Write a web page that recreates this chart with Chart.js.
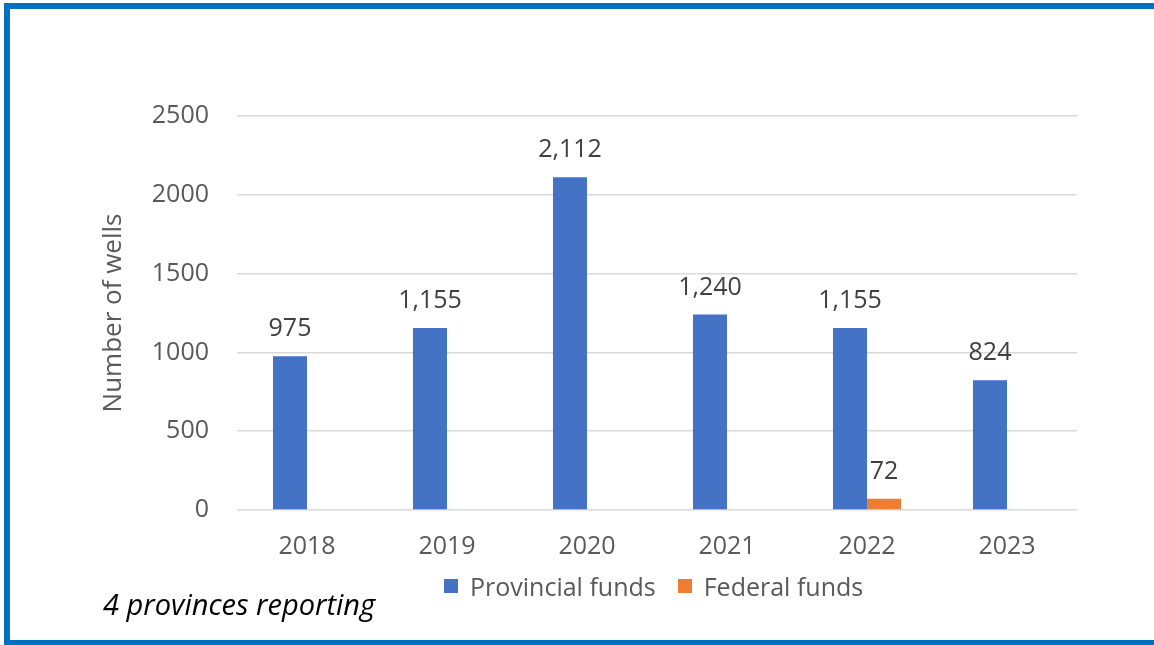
<html>
<head>
    <title>Number of wells</title>
    <style>
        body {
            margin: 0;
            background: #fff;
            overflow: hidden;
            font-family: "Open Sans", Arial, sans-serif;
        }
        .frame {
            position: absolute;
            left: 4px;
            top: 3px;
            width: 1200px;
            height: 642px;
            box-sizing: border-box;
            border-left: 6px solid #0070C0;
            border-top: 6px solid #0070C0;
            border-bottom: 5px solid #0070C0;
        }
        #chartBox {
            position: absolute;
            left: 0;
            top: 0;
            width: 1154px;
            height: 645px;
        }
        #legend {
            position: absolute;
            left: 444px;
            top: 568px;
            height: 36px;
            display: flex;
            align-items: center;
            font-size: 25px;
            color: #595959;
            white-space: nowrap;
        }
        #legend .item {
            display: flex;
            align-items: center;
            margin-right: 22px;
        }
        #legend .box {
            width: 14px;
            height: 14px;
            margin-right: 12px;
        }
        .note {
            position: absolute;
            left: 103px;
            top: 584px;
            font-size: 29px;
            font-style: italic;
            color: #000;
            white-space: nowrap;
        }
    </style>
    <script src="https://cdn.jsdelivr.net/npm/chart.js"></script>
</head>
<body>
    <div class="frame"></div>
    <div id="chartBox"><canvas id="wellsChart" width="1154" height="645"></canvas></div>
    <div id="legend"></div>
    <div class="note">4 provinces reporting</div>
    <script>
        var years = ['2018', '2019', '2020', '2021', '2022', '2023'];
        var provincialFunds = [975, 1155, 2112, 1240, 1155, 824];
        var federalFunds = [null, null, null, null, 72, null];
        var yTicks = [0, 500, 1000, 1500, 2000, 2500];

        // draws the number above each bar
        var valueLabels = {
            id: 'valueLabels',
            afterDatasetsDraw: function (chart) {
                var ctx = chart.ctx;
                ctx.save();
                ctx.font = '25px "Open Sans"';
                ctx.fillStyle = '#404040';
                ctx.textAlign = 'center';
                ctx.textBaseline = 'middle';
                chart.data.datasets.forEach(function (ds, i) {
                    chart.getDatasetMeta(i).data.forEach(function (bar, j) {
                        var v = ds.data[j];
                        if (v === null || v === undefined) return;
                        ctx.fillText(v.toLocaleString('en-US'), bar.x, bar.y - 27);
                    });
                });
                ctx.restore();
            }
        };

        var ctx = document.getElementById('wellsChart').getContext('2d');
        var wellsChart = new Chart(ctx, {
            type: 'bar',
            data: {
                labels: years,
                datasets: [
                    {
                        label: 'Provincial funds',
                        data: provincialFunds,
                        backgroundColor: '#4472C4',
                        categoryPercentage: 0.486,
                        barPercentage: 1
                    },
                    {
                        label: 'Federal funds',
                        data: federalFunds,
                        backgroundColor: '#ED7D31',
                        categoryPercentage: 0.486,
                        barPercentage: 1
                    }
                ]
            },
            options: {
                responsive: false,
                animation: false,
                layout: {
                    padding: { left: 98, right: 77, top: 116, bottom: 0 }
                },
                plugins: {
                    legend: { display: false },
                    tooltip: { enabled: false }
                },
                scales: {
                    x: {
                        grid: { display: false, drawTicks: false },
                        border: { display: false },
                        ticks: {
                            color: '#595959',
                            font: { family: 'Open Sans', size: 25 },
                            padding: 22
                        },
                        afterFit: function (axis) { axis.height = 135; }
                    },
                    y: {
                        min: 0,
                        max: 2500,
                        afterBuildTicks: function (axis) {
                            axis.ticks = yTicks.map(function (v) { return { value: v }; });
                        },
                        grid: { color: '#d9d9d9', lineWidth: 1.5, drawTicks: false },
                        border: { display: false },
                        ticks: {
                            color: '#595959',
                            font: { family: 'Open Sans', size: 25 },
                            padding: 28,
                            callback: function (v) { return String(v); }
                        },
                        title: {
                            display: true,
                            text: 'Number of wells',
                            color: '#595959',
                            font: { family: 'Open Sans', size: 26 },
                            padding: 0
                        },
                        afterFit: function (axis) { axis.width = 237 - 98; }
                    }
                }
            },
            plugins: [valueLabels]
        });

        // legend built from the chart's datasets
        var legendEl = document.getElementById('legend');
        wellsChart.data.datasets.forEach(function (ds) {
            var item = document.createElement('div');
            item.className = 'item';
            var box = document.createElement('span');
            box.className = 'box';
            box.style.background = ds.backgroundColor;
            var txt = document.createElement('span');
            txt.textContent = ds.label;
            item.appendChild(box);
            item.appendChild(txt);
            legendEl.appendChild(item);
        });
    </script>
</body>
</html>
